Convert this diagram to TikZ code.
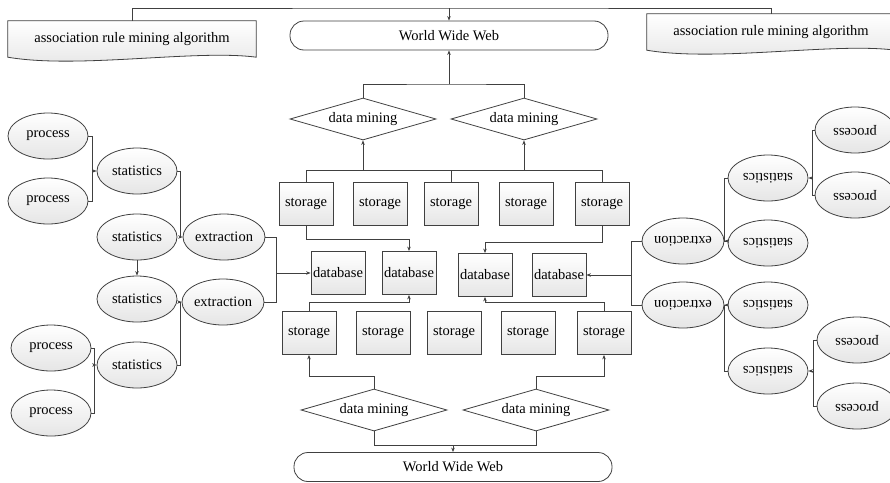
\documentclass[tikz,border=0pt]{standalone}
\usepackage{fontspec}
\setmainfont{Liberation Serif}
\usepackage{graphicx}
\usetikzlibrary{shapes.geometric,arrows.meta,backgrounds}
\newcommand{\upside}[1]{\rotatebox[origin=c]{180}{#1}}

\begin{document}
\begin{tikzpicture}[x=1pt, y=-1pt, >={Stealth[length=4.5pt,width=3.5pt]},
    every node/.style={font=\fontsize{14.5}{17}\selectfont},
    line/.style={draw=black!75, line width=0.8pt},
    fillshade/.style={line, top color=white, bottom color=black!10},
    store/.style={fillshade, rectangle, minimum width=54pt, minimum height=43pt, inner sep=0pt},
    oval/.style={fillshade, ellipse, minimum width=80pt, minimum height=46pt, inner sep=0pt},
    mine/.style={line, fill=white, diamond, minimum width=146pt, minimum height=42pt, inner sep=0pt, shape aspect=3.4},
    web/.style={line, fill=white, rectangle, rounded corners=14pt, minimum width=318pt, minimum height=29pt},
    doc/.style={minimum width=248pt, minimum height=36pt, inner sep=0pt}]
    \useasboundingbox (0,0) rectangle (890,482);

    % documents and the web
    \node[doc] (ldoc) at (132,39) {association rule mining algorithm};
    \node[doc] (rdoc) at (771,32) {association rule mining algorithm};
    \node[web] (web1) at (449,35.5) {World Wide Web};
    \node[web] (web2) at (453,467) {World Wide Web};
    \begin{scope}[on background layer]
        \draw[fillshade] (ldoc.north west) -- (ldoc.north east) -- (ldoc.south east)
            .. controls +(-60,-8) and +(70,12) .. (ldoc.south west) -- cycle;
        \draw[fillshade] (rdoc.north west) -- (rdoc.north east) -- (rdoc.south east)
            .. controls +(-60,-8) and +(70,12) .. (rdoc.south west) -- cycle;
    \end{scope}

    % data mining
    \node[mine] (dm1) at (363,119) {data mining};
    \node[mine] (dm2) at (524,119) {data mining};
    \node[mine] (dm3) at (374,410) {data mining};
    \node[mine] (dm4) at (536,410) {data mining};

    % storage and databases
    \node[store] (ts1) at (306,204) {storage};
    \node[store] (ts2) at (380,204) {storage};
    \node[store] (ts3) at (451,204) {storage};
    \node[store] (ts4) at (526,204) {storage};
    \node[store] (ts5) at (602,204) {storage};
    \node[store] (db1) at (338,273) {database};
    \node[store] (db2) at (409,273) {database};
    \node[store] (db3) at (485,275) {database};
    \node[store] (db4) at (559,275) {database};
    \node[store] (bs1) at (309,333) {storage};
    \node[store] (bs2) at (383,333) {storage};
    \node[store] (bs3) at (454,333) {storage};
    \node[store] (bs4) at (528,333) {storage};
    \node[store] (bs5) at (604,333) {storage};

    % left side
    \node[oval] (p1) at (48,136) {process};
    \node[oval] (p2) at (48,201) {process};
    \node[oval] (s1) at (137,171) {statistics};
    \node[oval] (s2) at (137,237) {statistics};
    \node[oval] (e1) at (224,237) {extraction};
    \node[oval] (s3) at (137,299) {statistics};
    \node[oval] (e2) at (223,302) {extraction};
    \node[oval] (p3) at (51,348) {process};
    \node[oval] (s4) at (137,365) {statistics};
    \node[oval] (p4) at (51,413) {process};

    % right side
    \node[oval] (pr1) at (855,130) {\upside{process}};
    \node[oval] (pr2) at (855,195) {\upside{process}};
    \node[oval] (sr1) at (768,178) {\upside{statistics}};
    \node[oval] (sr2) at (768,243) {\upside{statistics}};
    \node[oval] (er1) at (683,241) {\upside{extraction}};
    \node[oval] (sr3) at (768,305) {\upside{statistics}};
    \node[oval] (er2) at (683,305) {\upside{extraction}};
    \node[oval] (sr4) at (768,371) {\upside{statistics}};
    \node[oval] (pr3) at (857,340) {\upside{process}};
    \node[oval] (pr4) at (857,406) {\upside{process}};

    % lanes
    \coordinate (tbus) at (449,8);
    \coordinate (mbus) at (449,84);
    \coordinate (sbus) at (0,170);
    \coordinate (dlane) at (0,239);
    \coordinate (dlane2) at (0,242);
    \coordinate (ulane) at (0,302);
    \coordinate (mlane) at (0,376);
    \coordinate (wlane) at (0,445);
    \coordinate (lx1) at (92,0);
    \coordinate (lx2) at (94,0);
    \coordinate (rx1) at (812,0);
    \coordinate (rx2) at (813,0);
    \coordinate (lj) at (276,273);
    \coordinate (rj) at (631,275);

    % top
    \draw[line] (ldoc.north) |- (tbus) -| (rdoc.north);
    \draw[line,->] (tbus) -- (web1.north);
    \draw[line] (dm1.north) |- (mbus) -| (dm2.north);
    \draw[line,->] (mbus) -- (web1.south);
    \draw[line] (ts1.north) |- (ts5.north |- sbus) -- (ts5.north);
    \draw[line] (ts3.north) -- (ts3.north |- sbus);
    \draw[line,->] (dm1.south |- sbus) -- (dm1.south);
    \draw[line,->] (dm2.south |- sbus) -- (dm2.south);
    \draw[line,->] (ts1.south) |- (db2.north |- dlane) -- (db2.north);
    \draw[line,->] (ts5.south) |- (db3.north |- dlane2) -- (db3.north);

    % bottom
    \draw[line,->] (bs1.north) |- (db2.south |- ulane) -- (db2.south);
    \draw[line,->] (bs5.north) |- (db3.south |- ulane) -- (db3.south);
    \draw[line,->] (dm3.north) |- (bs1.south |- mlane) -- (bs1.south);
    \draw[line,->] (dm4.north) |- (bs5.south |- mlane) -- (bs5.south);
    \draw[line] (dm3.south) |- (dm4.south |- wlane) -- (dm4.south);
    \draw[line,->] (web2.north |- wlane) -- (web2.north);

    % left connectors
    \draw[line] (p1.east) -| (lx1 |- p2.east) -- (p2.east);
    \draw[line,->] (lx1 |- s1.west) -- (s1.west);
    \draw[line,->] (s1.east) -- ++(3,0) |- (e1.west);
    \draw[line,->] (s2.south) -- (s3.north);
    \draw[line] (p3.east) -| (lx2 |- p4.east) -- (p4.east);
    \draw[line,->] (lx2 |- s4.west) -- (s4.west);
    \draw[line,->] (s4.east) -- ++(3,0) |- (e2.west);
    \draw[line] (e1.east) -| (lj);
    \draw[line] (e2.east) -| (lj);
    \draw[line,->] (lj) -- (db1.west);

    % right connectors
    \draw[line] (pr1.west) -| (rx1 |- pr2.west) -- (pr2.west);
    \draw[line,->] (rx1 |- sr1.east) -- (sr1.east);
    \draw[line,->] (sr1.west) -- ++(-3,0) |- (er1.east);
    \draw[line] (pr3.west) -| (rx2 |- pr4.west) -- (pr4.west);
    \draw[line,->] (rx2 |- sr4.east) -- (sr4.east);
    \draw[line,->] (sr4.west) -- ++(-3,0) |- (er2.east);
    \draw[line] (er1.west) -| (rj);
    \draw[line] (er2.west) -| (rj);
    \draw[line,->] (rj) -- (db4.east);
\end{tikzpicture}
\end{document}
